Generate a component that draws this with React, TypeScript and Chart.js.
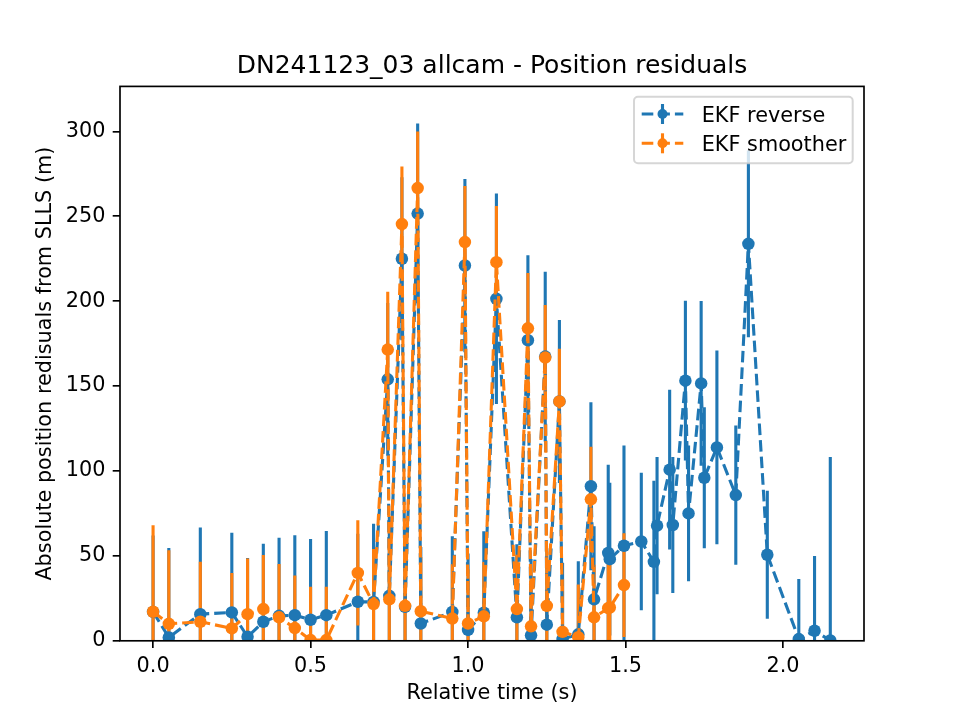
import React, { useEffect, useRef } from "react";
import { Chart, registerables } from "chart.js";

Chart.register(...registerables);

const TITLE = "DN241123_03 allcam - Position residuals";
const X_LABEL = "Relative time (s)";
const Y_LABEL = "Absolute position redisuals from SLLS (m)";
const SERIES_NAMES = ["EKF reverse", "EKF smoother"];
const SERIES_COLORS = ["#1f77b4", "#ff7f0e"];

// EKF reverse
const reverseTime = [
  0.0, 0.05, 0.15, 0.25, 0.3, 0.35, 0.4, 0.45, 0.5, 0.55, 0.65, 0.7, 0.745, 0.75,
  0.79, 0.8, 0.84, 0.85, 0.95, 0.99, 1.0, 1.05, 1.09, 1.155, 1.19, 1.2, 1.245,
  1.25, 1.29, 1.3, 1.35, 1.39, 1.4, 1.445, 1.45, 1.495, 1.55, 1.59, 1.6, 1.64,
  1.65, 1.69, 1.7, 1.74, 1.75, 1.79, 1.85, 1.89, 1.95, 2.05, 2.1, 2.15,
];
const reverseValue = [
  17, 2, 15.7, 16.7, 2.4, 11.2, 14.7, 15.1, 12.4, 15.1, 23, 22.9, 154, 26.5,
  225, 20, 251.6, 10.2, 17, 221, 6.4, 16.5, 201.4, 13.8, 177, 3.2, 167.4,
  9.5, 141, 1, 3.8, 91, 24.4, 51.7, 48.1, 56, 58.5, 46.5, 67.8, 100.8,
  68.2, 153.2, 75, 151.6, 96, 113.9, 85.8, 233.8, 50.7, 1, 5.9, 0.2,
];
const reverseError = [
  45, 52.6, 51, 47, 46.4, 46, 46, 47, 47.5, 49.5, 40, 46, 45, 46.5,
  48, 45, 53, 45, 44.5, 51, 45, 48, 62, 43, 50, 45, 50,
  45, 48, 45, 43, 49.5, 43, 52, 45, 59, 40.5, 47.7, 40.4, 47,
  40, 47, 40, 48.5, 41.5, 57, 41, 55, 37.7, 35.4, 44, 108,
];

// EKF smoother
const smootherTime = [
  0.0, 0.05, 0.15, 0.25, 0.3, 0.35, 0.4, 0.45, 0.5, 0.55, 0.65, 0.7, 0.745, 0.75,
  0.79, 0.8, 0.84, 0.85, 0.95, 0.99, 1.0, 1.05, 1.09, 1.155, 1.19, 1.2, 1.245,
  1.25, 1.29, 1.3, 1.35, 1.39, 1.4, 1.445, 1.45, 1.495,
];
const smootherValue = [
  17.1, 10, 11.2, 7.3, 15.7, 18.7, 13.8, 7.5, 0.4, 0.4, 40, 21.6, 171.5, 24.4,
  245.4, 20.6, 266.6, 17.4, 13.1, 234.8, 10.2, 14.4, 223, 18.7, 184, 8.5, 166.8,
  20.6, 141, 5.3, 2.1, 83.3, 13.8, 19.2, 19.6, 32.8,
];
const smootherError = [
  51, 43.4, 35.3, 32.6, 32.8, 31.8, 31.4, 31, 31.4, 31.4, 31, 32.4, 34, 32,
  34, 32, 33.4, 32, 32, 33, 32, 32, 33, 32, 32.6, 32, 31,
  32, 31, 31, 31, 31, 31, 30, 30, 30.6,
];

const xTicks = [0.0, 0.5, 1.0, 1.5, 2.0];
const yTicks = [0, 50, 100, 150, 200, 250, 300];
const X_MIN = -0.105;
const X_MAX = 2.257;
const Y_MIN = 0;
const Y_MAX = 326.5;

const FONT = "'DejaVu Sans', sans-serif";
const LW = 3.1;
const DASH = [11.6, 5];

const toPoints = (t: number[], v: number[]) => t.map((x, i) => ({ x, y: v[i] }));

const errorBarPlugin = {
  id: "mplDecor",
  beforeDatasetsDraw(chart: any) {
    const ctx = chart.ctx;
    const a = chart.chartArea;
    const xs = chart.scales.x;
    const ys = chart.scales.y;
    ctx.save();
    ctx.beginPath();
    ctx.rect(a.left, a.top, a.right - a.left, a.bottom - a.top);
    ctx.clip();
    chart.data.datasets.forEach((ds: any) => {
      ctx.strokeStyle = ds.borderColor;
      ctx.lineWidth = LW;
      ctx.setLineDash([]);
      ctx.lineCap = "butt";
      ds.data.forEach((p: any, j: number) => {
        const e = ds.errors[j];
        const x = xs.getPixelForValue(p.x);
        ctx.beginPath();
        ctx.moveTo(x, ys.getPixelForValue(p.y - e));
        ctx.lineTo(x, ys.getPixelForValue(p.y + e));
        ctx.stroke();
      });
    });
    ctx.restore();
  },
  afterDatasetsDraw(chart: any) {
    const ctx = chart.ctx;
    const a = chart.chartArea;
    ctx.save();
    ctx.strokeStyle = "#000";
    ctx.lineWidth = 1.67;
    ctx.setLineDash([]);
    ctx.strokeRect(a.left, a.top, a.right - a.left, a.bottom - a.top);
    ctx.restore();
  },
  afterDraw(chart: any) {
    const ctx = chart.ctx;
    const a = chart.chartArea;
    const cx = (a.left + a.right) / 2;
    const cy = (a.top + a.bottom) / 2;
    ctx.save();
    ctx.fillStyle = "#000";
    ctx.textAlign = "center";
    ctx.textBaseline = "alphabetic";
    ctx.font = `25px ${FONT}`;
    ctx.fillText(TITLE, cx, 73.3);
    ctx.font = `20.8px ${FONT}`;
    ctx.fillText(X_LABEL, cx, 699);
    ctx.save();
    ctx.translate(51, cy);
    ctx.rotate(-Math.PI / 2);
    ctx.fillText(Y_LABEL, 0, 0);
    ctx.restore();

    // legend
    const bx = 634, by = 96.7, bw = 218.7, bh = 66.6, r = 4;
    ctx.beginPath();
    ctx.moveTo(bx + r, by);
    ctx.lineTo(bx + bw - r, by);
    ctx.arcTo(bx + bw, by, bx + bw, by + r, r);
    ctx.lineTo(bx + bw, by + bh - r);
    ctx.arcTo(bx + bw, by + bh, bx + bw - r, by + bh, r);
    ctx.lineTo(bx + r, by + bh);
    ctx.arcTo(bx, by + bh, bx, by + bh - r, r);
    ctx.lineTo(bx, by + r);
    ctx.arcTo(bx, by, bx + r, by, r);
    ctx.closePath();
    ctx.fillStyle = "rgba(255,255,255,0.8)";
    ctx.fill();
    ctx.strokeStyle = "rgba(204,204,204,0.8)";
    ctx.lineWidth = 2;
    ctx.stroke();

    const rows = [114, 143.3];
    SERIES_NAMES.forEach((name, i) => {
      const y = rows[i];
      const col = SERIES_COLORS[i];
      ctx.strokeStyle = col;
      ctx.lineWidth = LW;
      ctx.lineCap = "butt";
      ctx.setLineDash(DASH);
      ctx.beginPath();
      ctx.moveTo(641.7, y);
      ctx.lineTo(683.3, y);
      ctx.stroke();
      ctx.setLineDash([]);
      ctx.beginPath();
      ctx.moveTo(662.5, y - 10);
      ctx.lineTo(662.5, y + 10);
      ctx.stroke();
      ctx.fillStyle = col;
      ctx.beginPath();
      ctx.arc(662.5, y, 5, 0, Math.PI * 2);
      ctx.fill();
      ctx.fillStyle = "#000";
      ctx.textAlign = "left";
      ctx.font = `20.8px ${FONT}`;
      ctx.fillText(name, 701.7, y + 7.5);
    });
    ctx.restore();
  },
};

export default function App() {
  const ref = useRef<HTMLCanvasElement | null>(null);
  useEffect(() => {
    if (!ref.current) return;
    const mk = (label: string, t: number[], v: number[], e: number[], color: string, order: number) => ({
      label,
      data: toPoints(t, v),
      errors: e,
      showLine: true,
      borderColor: color,
      backgroundColor: color,
      borderWidth: LW,
      borderDash: DASH,
      borderJoinStyle: "round",
      pointRadius: 6.25,
      pointBorderWidth: 0,
      pointBackgroundColor: color,
      pointBorderColor: color,
      pointHoverRadius: 6.25,
      clip: 0,
      order,
    });
    const chart = new Chart(ref.current, {
      type: "scatter",
      data: {
        datasets: [
          mk(SERIES_NAMES[0], reverseTime, reverseValue, reverseError, SERIES_COLORS[0], 1),
          mk(SERIES_NAMES[1], smootherTime, smootherValue, smootherError, SERIES_COLORS[1], 0),
        ] as any,
      },
      options: {
        responsive: false,
        devicePixelRatio: 1,
        animation: false,
        events: [],
        layout: { padding: { top: 86.4, right: 96, bottom: 0, left: 0 } },
        plugins: { legend: { display: false }, tooltip: { enabled: false }, title: { display: false } },
        scales: {
          x: {
            type: "linear",
            min: X_MIN,
            max: X_MAX,
            afterBuildTicks: (s: any) => {
              s.ticks = xTicks.map((v) => ({ value: v }));
            },
            afterFit: (s: any) => {
              s.height = 79.2;
            },
            ticks: {
              callback: (v: any) => Number(v).toFixed(1),
              font: { family: FONT, size: 20.8 },
              color: "#000",
              padding: 6,
              maxRotation: 0,
              autoSkip: false,
            },
            grid: {
              drawOnChartArea: false,
              drawTicks: true,
              tickLength: 7.3,
              tickWidth: 1.67,
              tickColor: "#000",
              lineWidth: 1.67,
              color: "#000",
            },
            border: { display: false },
          },
          y: {
            type: "linear",
            min: Y_MIN,
            max: Y_MAX,
            afterBuildTicks: (s: any) => {
              s.ticks = yTicks.map((v) => ({ value: v }));
            },
            afterFit: (s: any) => {
              s.width = 120;
            },
            ticks: {
              callback: (v: any) => String(v),
              font: { family: FONT, size: 20.8 },
              color: "#000",
              padding: 7.3,
              autoSkip: false,
            },
            grid: {
              drawOnChartArea: false,
              drawTicks: true,
              tickLength: 7.3,
              tickWidth: 1.67,
              tickColor: "#000",
              lineWidth: 1.67,
              color: "#000",
            },
            border: { display: false },
          },
        },
      } as any,
      plugins: [errorBarPlugin as any],
    });
    return () => chart.destroy();
  }, []);
  return (
    <div style={{ position: "absolute", left: 0, top: 0, width: 960, height: 720, background: "#fff" }}>
      <canvas ref={ref} width={960} height={720} style={{ display: "block" }} />
    </div>
  );
}
